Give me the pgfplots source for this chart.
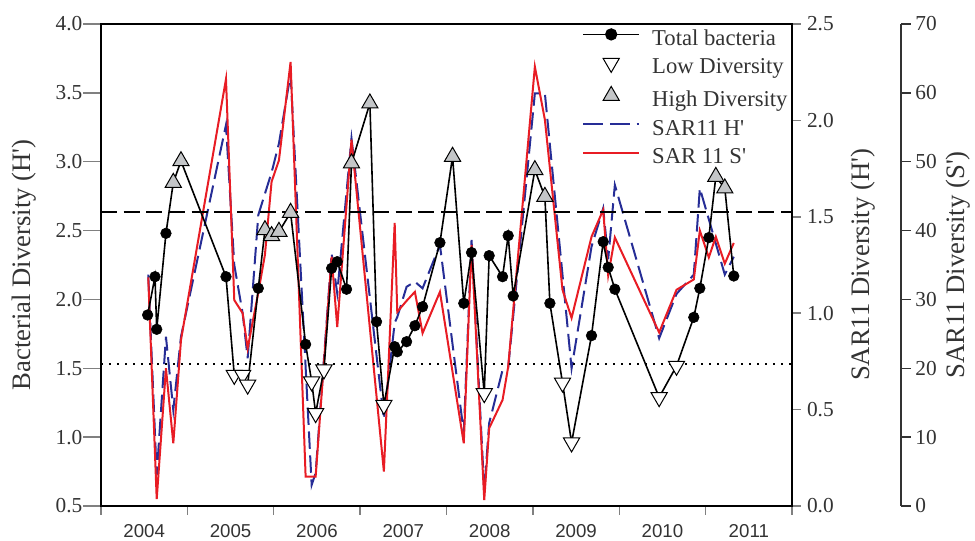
\documentclass[border=0pt]{standalone}
\usepackage{fontspec}
\setmainfont{Liberation Serif}
\newfontfamily\arialfont{Liberation Sans}
\usepackage{pgfplots}
\usepackage{pgfplotstable}
\pgfplotsset{compat=1.18}

\definecolor{txt}{HTML}{333333}
\definecolor{sarblue}{RGB}{38,45,150}
\definecolor{sarred}{RGB}{232,28,36}
\definecolor{hifill}{HTML}{C4C6C8}

% total bacteria H'; t: 0 = normal, 1 = low diversity, 2 = high diversity
\pgfplotstableread{
yr h t
2004.540 1.887 0
2004.625 2.165 0
2004.645 1.783 0
2004.752 2.480 0
2004.837 2.848 2
2004.926 3.005 2
2005.447 2.165 0
2005.543 1.451 1
2005.640 1.451 1
2005.698 1.380 1
2005.821 2.081 0
2005.898 2.504 2
2005.975 2.461 2
2006.060 2.492 2
2006.195 2.630 2
2006.369 1.674 0
2006.439 1.403 1
2006.485 1.173 1
2006.581 1.490 1
2006.670 2.226 0
2006.735 2.274 0
2006.843 2.074 0
2006.900 2.989 2
2007.113 3.424 2
2007.190 1.838 0
2007.275 1.233 1
2007.400 1.657 0
2007.430 1.620 0
2007.538 1.693 0
2007.634 1.809 0
2007.723 1.947 0
2007.924 2.412 0
2008.070 3.037 2
2008.200 1.972 0
2008.290 2.340 0
2008.437 1.318 1
2008.494 2.318 0
2008.649 2.165 0
2008.714 2.463 0
2008.772 2.025 0
2009.023 2.940 2
2009.139 2.746 2
2009.197 1.972 0
2009.343 1.395 1
2009.448 0.960 1
2009.679 1.737 0
2009.814 2.419 0
2009.872 2.233 0
2009.949 2.074 0
2010.462 1.289 1
2010.663 1.517 1
2010.863 1.870 0
2010.933 2.081 0
2011.037 2.449 0
2011.118 2.891 2
2011.222 2.807 2
2011.326 2.170 0
}\totalbact

% SAR11 H'
\pgfplotstableread{
yr hp
2004.547 1.20
2004.645 0.16
2004.752 0.878
2004.837 0.498
2004.926 0.878
2005.447 1.976
2005.543 1.25
2005.640 1.00
2005.698 0.766
2005.821 1.509
2005.898 1.62
2005.975 1.73
2006.060 1.88
2006.195 2.24
2006.439 0.109
2006.485 0.17
2006.670 1.311
2006.735 1.103
2006.900 1.907
2007.275 0.45
2007.400 0.95
2007.430 0.98
2007.538 1.137
2007.634 1.163
2007.723 1.129
2007.924 1.354
2008.200 0.38
2008.290 1.38
2008.437 0.08
2008.494 0.43
2008.649 0.705
2008.714 0.716
2009.023 2.14
2009.139 2.14
2009.448 0.714
2009.679 1.345
2009.814 1.544
2009.872 1.28
2009.949 1.665
2010.462 0.87
2010.663 1.10
2010.863 1.20
2010.933 1.648
2011.222 1.20
2011.326 1.293
}\sarH

% SAR11 S'
\pgfplotstableread{
yr sp
2004.547 33.2
2004.645 1.0
2004.752 20.0
2004.837 9.1
2004.926 24.1
2005.447 62.0
2005.543 29.9
2005.640 28.0
2005.698 22.9
2005.821 31.0
2005.898 36.5
2005.975 47.1
2006.060 50.2
2006.195 64.5
2006.369 4.26
2006.485 4.26
2006.670 36.2
2006.735 26.0
2006.900 53.2
2007.275 5.0
2007.400 41.1
2007.430 28.2
2007.538 29.8
2007.634 31.1
2007.723 25.1
2007.924 31.1
2008.200 9.1
2008.290 37.9
2008.437 0.87
2008.494 11.3
2008.649 15.4
2008.714 20.2
2009.023 63.8
2009.139 56.1
2009.343 31.4
2009.448 27.3
2009.679 39.1
2009.814 43.0
2009.872 33.5
2009.949 39.0
2010.462 25.2
2010.663 31.4
2010.863 32.9
2010.933 40.0
2011.037 36.1
2011.118 39.1
2011.222 35.2
2011.326 38.2
}\sarS

\pgfplotsset{
  diva/.style={
    scale only axis, width=518.25pt, height=361.5pt,
    at={(0,0)}, anchor=south west,
    xmin=2004, xmax=2012,
    tick align=outside,
    /pgf/number format/assume math mode=true,
    yticklabel style={font=\fontsize{16}{16}\selectfont, text=txt,
      /pgf/number format/fixed, /pgf/number format/fixed zerofill,
      /pgf/number format/precision=1},
    ylabel style={font=\fontsize{20}{20}\selectfont, text=txt, anchor=center},
  },
}

\begin{document}
\begin{tikzpicture}

% SAR11 H' axis (first right axis)
\begin{axis}[diva,
  hide x axis,
  axis y line*=right,
  ymin=0, ymax=2.5,
  ytick={0,0.5,1.0,1.5,2.0,2.5},
  major tick length=6.75pt,
  y axis line style={line width=1.3pt},
  ytick style={line width=1.1pt},
  yticklabel style={xshift=1pt},
  ylabel={SAR11 Diversity (H\textquotesingle)},
  ylabel style={at={(axis description cs:1.1027,0.5)}},
]
\addplot[sarblue, line width=1.5pt, dash pattern=on 13pt off 5pt] table[x=yr, y=hp] {\sarH};
\end{axis}

% SAR11 S' axis (outer right axis)
\begin{axis}[diva,
  hide x axis,
  axis y line*=right,
  ymin=0, ymax=70,
  ytick={0,10,20,30,40,50,60,70},
  yticklabel style={/pgf/number format/precision=0},
  major tick length=7pt,
  every outer y axis line/.append style={xshift=82pt, line width=1.7pt, draw=txt},
  every y tick/.append style={xshift=82pt, line width=1.1pt, draw=txt},
  every y tick label/.append style={xshift=82pt},
  ylabel={SAR11 Diversity (S\textquotesingle)},
  ylabel style={at={(axis description cs:1.241,0.5)}},
]
\addplot[sarred, line width=1.5pt] table[x=yr, y=sp] {\sarS};
\end{axis}

% total bacteria (left axis)
\begin{axis}[diva,
  ymin=0.5, ymax=4.0,
  ytick={0.5,1.0,1.5,2.0,2.5,3.0,3.5,4.0},
  ytick pos=left, xtick pos=bottom,
  xtick={2004.5,2005.5,2006.5,2007.5,2008.5,2009.5,2010.5,2011.5},
  xticklabels={2004,2005,2006,2007,2008,2009,2010,2011},
  minor xtick={2004,2005,2006,2007,2008,2009,2010,2011,2012},
  major x tick style={draw=none},
  major tick length=13.5pt, minor tick length=6.75pt,
  axis line style={line width=1.3pt},
  ytick style={line width=1.1pt},
  minor x tick style={line width=1.1pt},
  yticklabel style={xshift=3pt},
  xticklabel style={font=\arialfont\fontsize{14}{14}\selectfont, text=txt, inner sep=1pt, yshift=1pt},
  ylabel={Bacterial Diversity (H\textquotesingle)},
  ylabel style={at={(axis description cs:-0.1114,0.5)}},
  legend style={at={(rel axis cs:0.696,0.99)}, anchor=north west,
    draw=none, fill=none, inner sep=0pt,
    font=\fontsize{17}{20}\selectfont, text=txt,
    row sep=5.5pt, column sep=0pt,
    nodes={inner sep=0pt, text height=12pt, text depth=4pt}},
  legend cell align=left,
  legend image code/.code={
    \draw[mark repeat=2, mark phase=2, #1] plot coordinates {(0pt,4pt) (21pt,4pt) (42pt,4pt)};
    \path (51pt,0pt);},
]
\addplot[black, line width=1.1pt, dash pattern=on 12pt off 5pt, forget plot] coordinates {(2004,2.635) (2012,2.635)};
\addplot[black, line width=1.4pt, dash pattern=on 1.5pt off 4.5pt, forget plot] coordinates {(2004,1.53) (2012,1.53)};

\addplot[black, line width=1.2pt, no marks, forget plot] table[x=yr, y=h] {\totalbact};
\addplot[only marks, mark=*, mark size=4pt, black, forget plot,
  restrict expr to domain={\thisrow{t}}{0:0}] table[x=yr, y=h] {\totalbact};
\addplot[only marks, mark=triangle*, mark size=7pt, forget plot,
  mark options={rotate=180, draw=black, fill=white, line width=0.75pt},
  restrict expr to domain={\thisrow{t}}{1:1}] table[x=yr, y=h] {\totalbact};
\addplot[only marks, mark=triangle*, mark size=7pt, forget plot,
  mark options={draw=black, fill=hifill, line width=0.75pt},
  restrict expr to domain={\thisrow{t}}{2:2}] table[x=yr, y=h] {\totalbact};

\addlegendimage{black, line width=1.2pt, mark=*, mark size=4pt}
\addlegendentry{Total bacteria}
\addlegendimage{only marks, mark=triangle*, mark size=7pt, mark options={rotate=180, draw=black, fill=white, line width=0.75pt}}
\addlegendentry{Low Diversity}
\addlegendimage{only marks, mark=triangle*, mark size=7pt, mark options={draw=black, fill=hifill, line width=0.75pt}}
\addlegendentry{High Diversity}
\addlegendimage{sarblue, line width=1.5pt, dash pattern=on 15pt off 5pt}
\addlegendentry{SAR11 H\textquotesingle}
\addlegendimage{sarred, line width=1.5pt}
\addlegendentry{SAR 11 S\textquotesingle}
\end{axis}

\pgfresetboundingbox
\path[use as bounding box] (-75.75pt,-26.25pt) rectangle (655.5pt,379.5pt);
\end{tikzpicture}
\end{document}
